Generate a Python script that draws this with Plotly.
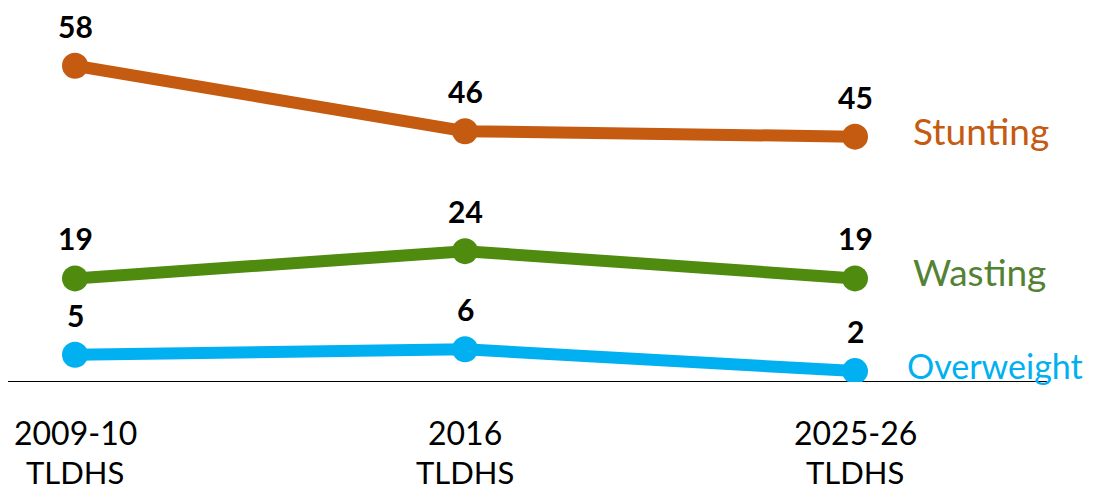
import plotly.graph_objects as go

cat_line1 = ["2009-10", "2016", "2025-26"]
cat_line2 = ["TLDHS", "TLDHS", "TLDHS"]
series_names = ["Stunting", "Wasting", "Overweight"]
stunting = [58, 46, 45]
wasting = [19, 24, 19]
overweight = [5, 6, 2]

line_colors = ["#C55A11", "#4E8B0E", "#00B0F0"]
text_colors = ["#C55A11", "#548235", "#00B0F0"]

xs = [0, 1, 2]
fig = go.Figure()
annotations = []
for name, vals, lc in zip(series_names, [stunting, wasting, overweight], line_colors):
    fig.add_trace(go.Scatter(
        x=xs, y=vals, mode="lines+markers",
        line=dict(color=lc, width=12),
        marker=dict(color=lc, size=26),
        showlegend=False, hoverinfo="skip",
    ))
    for x, v in zip(xs, vals):
        annotations.append(dict(
            x=x, y=v, xref="x", yref="y", text=str(v), showarrow=False,
            yshift=40, font=dict(family="Lato, Liberation Sans, sans-serif", size=30, color="black", weight="bold")
        ))

label_y = [46.2, 20.2, 3.1]
label_x = [2.143, 2.143, 2.128]
label_size = [37, 37, 34]
for name, ly, lx, ls, tc in zip(series_names, label_y, label_x, label_size, text_colors):
    annotations.append(dict(
        x=lx, y=ly, xref="x", yref="y", text=name, showarrow=False,
        xanchor="left", yanchor="middle",
        font=dict(family="Lato, sans-serif", size=ls, color=tc)
    ))

for x, l1, l2 in zip(xs, cat_line1, cat_line2):
    annotations.append(dict(x=x, y=0, xref="x", yref="y", text=l1, showarrow=False,
                            yshift=-50, yanchor="middle",
                            font=dict(family="Lato, sans-serif", size=32, color="black")))
    annotations.append(dict(x=x, y=0, xref="x", yref="y", text=l2, showarrow=False,
                            yshift=-90, yanchor="middle",
                            font=dict(family="Lato, sans-serif", size=31, color="black")))

fig.add_shape(type="line", xref="x", yref="y", x0=-0.1718, x1=2.492, y0=0, y1=0,
              line=dict(color="black", width=2), layer="below")

fig.update_layout(
    width=1091, height=484,
    margin=dict(l=0, r=0, t=0, b=110),
    plot_bgcolor="white", paper_bgcolor="white",
    xaxis=dict(range=[-0.1718, 2.6256], visible=False, fixedrange=True),
    yaxis=dict(range=[0, 68.6], visible=False, fixedrange=True),
    annotations=annotations,
)
fig.write_html("out.html")
